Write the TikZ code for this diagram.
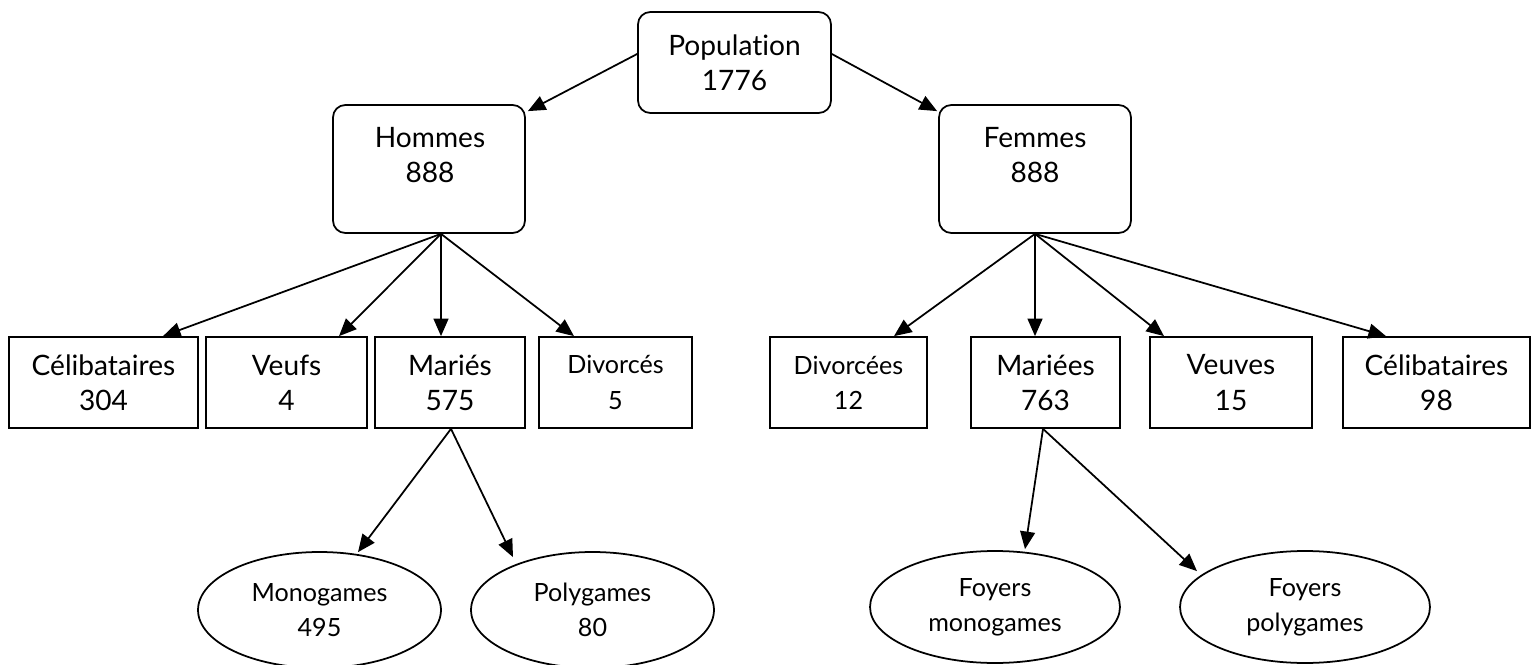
\documentclass[tikz,border=0pt]{standalone}
\usepackage{fontspec}
\setmainfont{Lato}[Ligatures={NoCommon,NoDiscretionary,NoRare}]
\usetikzlibrary{arrows.meta,shapes.geometric}
\begin{document}
\begin{tikzpicture}[x=0.02cm,y=-0.02cm,
  big/.style={font=\fontsize{16}{20}\selectfont},
  small/.style={font=\fontsize{14.3}{20}\selectfont},
  rbox/.style={draw,line width=1pt,rounded corners=7pt,inner sep=0pt,align=center},
  sbox/.style={draw,line width=1pt,inner sep=0pt,align=center,minimum height=1.82cm},
  ell/.style={draw,ellipse,line width=1pt,inner sep=0pt,align=center},
  txt/.style={inner sep=0pt,align=center},
  arr/.style={line width=1pt,-{Triangle[length=10pt,width=8.5pt]}}]
\useasboundingbox (0,0) rectangle (1531,665);
% top
\node[rbox,big,minimum width=3.86cm,minimum height=2.02cm] (P) at (734.5,62.5) {Popu{}la{}t{}ion\\1776};
\node[rbox,minimum width=3.84cm,minimum height=2.56cm] (H) at (429,169) {};
\node[txt,big] (Ht) at (430,155) {Hommes\\888};
\node[rbox,minimum width=3.84cm,minimum height=2.56cm] (F) at (1035,169) {};
\node[txt,big] (Ft) at (1035,155) {Femmes\\888};
% row
\node[sbox,big,minimum width=3.78cm] (C1) at (103.5,382.5) {Célibataires\\304};
\node[sbox,big,minimum width=3.22cm] (V1) at (286.5,382.5) {Veufs\\4};
\node[sbox,big,minimum width=3.00cm] (M1) at (450,382.5) {Mariés\\575};
\node[sbox,small,minimum width=3.06cm] (D1) at (615.5,382.5) {Divorcés\\5};
\node[sbox,small,minimum width=3.14cm] (D2) at (848.5,382.5) {Divorcées\\12};
\node[sbox,big,minimum width=2.98cm] (M2) at (1045.5,382.5) {Mariées\\763};
\node[sbox,big,minimum width=3.24cm] (V2) at (1231,382.5) {Veuves\\15};
\node[sbox,big,minimum width=3.74cm] (C2) at (1436.5,382.5) {Célibataires\\98};
% ellipses
\node[ell,small,minimum width=4.86cm,minimum height=2.32cm] (E1) at (319.5,610) {Monogames\\495};
\node[ell,small,minimum width=4.86cm,minimum height=2.32cm] (E2) at (592.5,610) {Polygames\\80};
\node[ell,small,minimum width=5.0cm,minimum height=2.24cm] (E3) at (995,607) {Foyers\\monogames};
\node[ell,small,minimum width=5.0cm,minimum height=2.24cm] (E4) at (1305,607) {Foyers\\polygames};
% arrows
\draw[arr] ([shift={(0,-8.5)}]P.west) -- ([shift={(2,7)}]H.north east);
\draw[arr] ([shift={(0,-8.5)}]P.east) -- ([shift={(-1,7)}]F.north west);
\draw[arr] ([shift={(12,0)}]H.south) -- ([shift={(59.5,0)}]C1.north);
\draw[arr] ([shift={(12,0)}]H.south) -- ([shift={(52.5,0)}]V1.north);
\draw[arr] ([shift={(12,0)}]H.south) -- ([shift={(-9,0)}]M1.north);
\draw[arr] ([shift={(12,0)}]H.south) -- ([shift={(-41.5,0)}]D1.north);
\draw[arr] (F.south) -- ([shift={(45.5,0)}]D2.north);
\draw[arr] (F.south) -- ([shift={(-10.5,0)}]M2.north);
\draw[arr] (F.south) -- ([shift={(-67,0)}]V2.north);
\draw[arr] (F.south) -- ([shift={(-50.5,0)}]C2.north);
\draw[arr] ([shift={(1,0)}]M1.south) -- ([shift={(38.5,1)}]E1.north);
\draw[arr] ([shift={(1,0)}]M1.south) -- ([shift={(-79.5,6)}]E2.north);
\draw[arr] ([shift={(-2.5,0)}]M2.south) -- ([shift={(30,-1)}]E3.north);
\draw[arr] ([shift={(-2.5,0)}]M2.south) -- ([shift={(-108,21)}]E4.north);
\end{tikzpicture}
\end{document}
